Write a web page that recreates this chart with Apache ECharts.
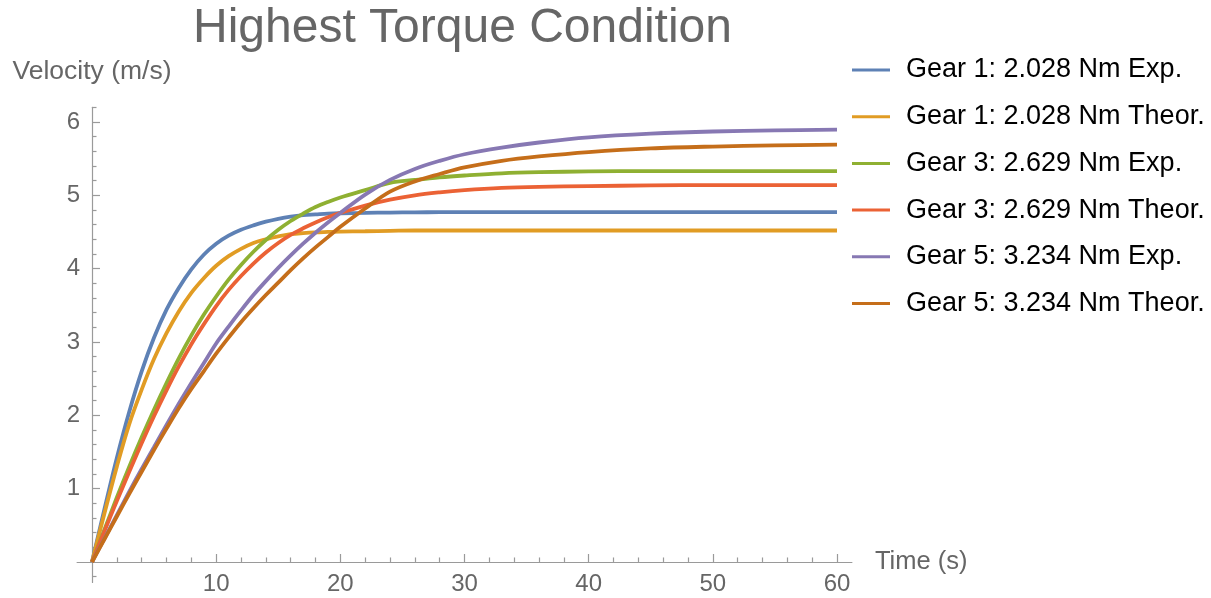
<!DOCTYPE html>
<html>
<head>
<meta charset="utf-8">
<script src="https://cdn.jsdelivr.net/npm/echarts@6/dist/echarts.min.js"></script>
<style>
html,body{margin:0;padding:0;background:#fff;}
#chart{width:1211px;height:598px;}
</style>
</head>
<body>
<div id="chart"></div>
<script>
// ---- data ----
const time = [0,1,2,3,4,5,6,7,8,9,10,11,12,13,14,15,16,17,18,19,20,22,24,26,28,30,33,36,40,45,50,55,60];

const gear1Exp   = [0,0.72,1.42,2.05,2.60,3.06,3.44,3.74,3.99,4.19,4.34,4.45,4.53,4.59,4.64,4.68,4.71,4.73,4.74,4.75,4.755,4.76,4.765,4.767,4.77,4.77,4.77,4.77,4.77,4.77,4.77,4.77,4.77];
const gear1Theor = [0,0.66,1.30,1.88,2.35,2.77,3.12,3.42,3.67,3.87,4.04,4.17,4.27,4.35,4.40,4.44,4.47,4.485,4.495,4.50,4.505,4.51,4.515,4.52,4.52,4.52,4.52,4.52,4.52,4.52,4.52,4.52,4.52];
const gear3Exp   = [0,0.44,0.88,1.30,1.70,2.08,2.44,2.78,3.09,3.37,3.62,3.85,4.05,4.23,4.39,4.53,4.65,4.75,4.84,4.91,4.97,5.07,5.17,5.21,5.245,5.27,5.30,5.315,5.325,5.33,5.33,5.33,5.33];
const gear3Theor = [0,0.42,0.83,1.23,1.62,1.99,2.34,2.67,2.97,3.24,3.49,3.71,3.90,4.07,4.22,4.35,4.46,4.55,4.63,4.70,4.76,4.86,4.94,5.00,5.04,5.07,5.10,5.115,5.125,5.135,5.14,5.14,5.14];
const gear5Exp   = [0,0.32,0.64,0.96,1.27,1.57,1.87,2.16,2.44,2.71,2.98,3.21,3.43,3.64,3.83,4.01,4.18,4.34,4.49,4.63,4.76,5.01,5.21,5.36,5.47,5.56,5.65,5.72,5.79,5.84,5.87,5.885,5.895];
const gear5Theor = [0,0.31,0.62,0.93,1.23,1.53,1.82,2.10,2.36,2.60,2.84,3.06,3.27,3.46,3.64,3.81,3.98,4.14,4.29,4.43,4.57,4.82,5.05,5.19,5.29,5.38,5.47,5.53,5.59,5.64,5.665,5.68,5.69];

const seriesNames = [
  'Gear 1: 2.028 Nm Exp.',
  'Gear 1: 2.028 Nm Theor.',
  'Gear 3: 2.629 Nm Exp.',
  'Gear 3: 2.629 Nm Theor.',
  'Gear 5: 3.234 Nm Exp.',
  'Gear 5: 3.234 Nm Theor.'
];
const seriesValues = [gear1Exp, gear1Theor, gear3Exp, gear3Theor, gear5Exp, gear5Theor];
const colors = ['#5E81B5','#E19C24','#8FB032','#EB6235','#8778B3','#C56E1A'];

const xMajorTicks = [10,20,30,40,50,60];
const xMinorTicks = [2,4,6,8,12,14,16,18,22,24,26,28,32,34,36,38,42,44,46,48,52,54,56,58];
const yMajorTicks = [1,2,3,4,5,6];
const yMinorTicks = [-0.2,0.2,0.4,0.6,0.8,1.2,1.4,1.6,1.8,2.2,2.4,2.6,2.8,3.2,3.4,3.6,3.8,4.2,4.4,4.6,4.8,5.2,5.4,5.6,5.8,6.2];

const titleText = 'Highest Torque Condition';
const xName = 'Time (s)';
const yName = 'Velocity (m/s)';

// ---- chart ----
const chart = echarts.init(document.getElementById('chart'), null, {renderer: 'canvas'});
const axisColor = '#9a9a9a';
const labelColor = '#666666';
const font = 'Liberation Sans';
// main plotting grid: origin at its bottom-left corner
const gridMain = {left: 92, right: 359.1, top: 107.3, bottom: 36, containLabel: false, outerBoundsMode: 'none'};
// frame grid: axis lines slightly extended past the origin (Mathematica style) + minor ticks
const gridFrame = {left: 77.1, right: 359.1, top: 107.3, bottom: 15.5, containLabel: false, outerBoundsMode: 'none'};
const X_MAX = 61.2, Y_MAX = 6.2, X_EXT = -1.2, Y_EXT = -0.28;

const series = seriesNames.map((name, i) => ({
  name: name,
  type: 'line',
  xAxisIndex: 0,
  yAxisIndex: 0,
  data: time.map((t, k) => [t, seriesValues[i][k]]),
  smooth: 0.35,
  showSymbol: false,
  symbol: 'none',
  clip: false,
  lineStyle: {width: 3.8, color: colors[i]},
  itemStyle: {color: colors[i]},
  emphasis: {disabled: true}
}));

const option = {
  animation: false,
  textStyle: {fontFamily: font},
  title: {
    text: titleText,
    left: 193,
    top: 5,
    padding: 0,
    textStyle: {fontSize: 48, fontWeight: 'normal', color: labelColor, fontFamily: font}
  },
  legend: {
    orient: 'vertical',
    left: 852,
    top: 55,
    padding: 0,
    itemWidth: 38,
    itemHeight: 3,
    itemGap: 16.7,
    icon: 'rect',
    data: seriesNames,
    textStyle: {fontSize: 27, color: '#000', lineHeight: 30, padding: [0, 0, 0, 11], fontFamily: font}
  },
  grid: [gridMain, gridFrame],
  xAxis: [
    {
      type: 'value', gridIndex: 0, min: 0, max: X_MAX,
      name: xName, nameLocation: 'end', nameGap: 23,
      nameTextStyle: {fontSize: 25.5, color: labelColor, fontFamily: font},
      axisLine: {show: false},
      axisTick: {show: true, inside: true, length: 8, customValues: xMajorTicks, lineStyle: {color: axisColor, width: 1.2}},
      axisLabel: {show: true, customValues: xMajorTicks, margin: 10, fontSize: 24, color: labelColor, fontFamily: font},
      splitLine: {show: false}
    },
    {
      type: 'value', gridIndex: 1, min: X_EXT, max: X_MAX,
      axisLine: {show: true, onZero: true, lineStyle: {color: axisColor, width: 1.2}},
      axisTick: {show: true, inside: true, length: 4.5, customValues: xMinorTicks, lineStyle: {color: axisColor, width: 1.2}},
      axisLabel: {show: false},
      splitLine: {show: false}
    }
  ],
  yAxis: [
    {
      type: 'value', gridIndex: 0, min: 0, max: Y_MAX,
      name: yName, nameLocation: 'end', nameGap: 22,
      nameTextStyle: {fontSize: 26.5, color: labelColor, fontFamily: font},
      axisLine: {show: false},
      axisTick: {show: true, inside: true, length: 8, customValues: yMajorTicks, lineStyle: {color: axisColor, width: 1.2}},
      axisLabel: {show: true, customValues: yMajorTicks, margin: 12, fontSize: 24, color: labelColor, fontFamily: font},
      splitLine: {show: false}
    },
    {
      type: 'value', gridIndex: 1, min: Y_EXT, max: Y_MAX,
      axisLine: {show: true, onZero: true, lineStyle: {color: axisColor, width: 1.2}},
      axisTick: {show: true, inside: true, length: 4.5, customValues: yMinorTicks, lineStyle: {color: axisColor, width: 1.2}},
      axisLabel: {show: false},
      splitLine: {show: false}
    }
  ],
  series: series
};
chart.setOption(option);
</script>
</body>
</html>
